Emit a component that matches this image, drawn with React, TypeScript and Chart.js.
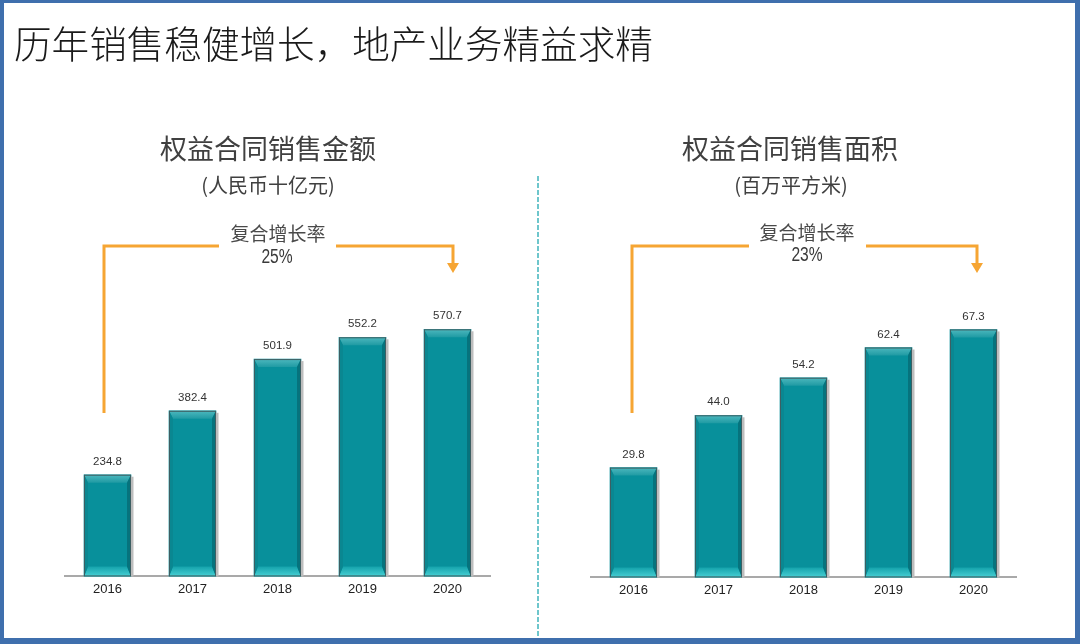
import React, { useEffect, useRef } from "react";
import { Chart, registerables } from "chart.js";

Chart.register(...registerables);

const years = ["2016", "2017", "2018", "2019", "2020"];
const salesAmount = [234.8, 382.4, 501.9, 552.2, 570.7];
const salesArea = [29.8, 44.0, 54.2, 62.4, 67.3];
const amountMax = 800;
const areaMax = 94.3;

const titleText = "历年销售稳健增长，地产业务精益求精";
const leftTitle = "权益合同销售金额";
const leftUnit = "(人民币十亿元)";
const rightTitle = "权益合同销售面积";
const rightUnit = "(百万平方米)";
const cagrLabel = "复合增长率";
const leftCagr = "25%";
const rightCagr = "23%";

const CJK = '"Noto Sans CJK SC", "Noto Sans", sans-serif';
const NUM = '"Liberation Sans", Arial, sans-serif';

const bevelPlugin = {
  id: "bevel",
  afterDatasetsDraw(chart: any) {
    const ctx = chart.ctx as CanvasRenderingContext2D;
    const meta = chart.getDatasetMeta(0);
    const values = chart.data.datasets[0].data as number[];
    meta.data.forEach((bar: any, i: number) => {
      const { x, y, base, width } = bar.getProps(["x", "y", "base", "width"], true);
      const l = x - width / 2;
      const r = x + width / 2;
      const t = y;
      const b = base;
      const s = 4;
      const tb = 8;
      const bb = 10;
      ctx.save();
      ctx.fillStyle = "#bdbdbd";
      ctx.fillRect(r, t + 2, 2.5, b - t - 2);
      const gt = ctx.createLinearGradient(0, t, 0, t + tb);
      gt.addColorStop(0, "#4db8be");
      gt.addColorStop(1, "#1f9aa3");
      ctx.fillStyle = gt;
      ctx.beginPath();
      ctx.moveTo(l, t);
      ctx.lineTo(r, t);
      ctx.lineTo(r - s, t + tb);
      ctx.lineTo(l + s, t + tb);
      ctx.closePath();
      ctx.fill();
      const g = ctx.createLinearGradient(0, b - bb, 0, b);
      g.addColorStop(0, "#14a2ab");
      g.addColorStop(1, "#48d0d4");
      ctx.fillStyle = g;
      ctx.beginPath();
      ctx.moveTo(l, b);
      ctx.lineTo(r, b);
      ctx.lineTo(r - s, b - bb);
      ctx.lineTo(l + s, b - bb);
      ctx.closePath();
      ctx.fill();
      ctx.fillStyle = "#0a8791";
      ctx.beginPath();
      ctx.moveTo(l, t);
      ctx.lineTo(l + s, t + tb);
      ctx.lineTo(l + s, b - bb);
      ctx.lineTo(l, b);
      ctx.closePath();
      ctx.fill();
      ctx.fillStyle = "#06737d";
      ctx.beginPath();
      ctx.moveTo(r, t);
      ctx.lineTo(r - s, t + tb);
      ctx.lineTo(r - s, b - bb);
      ctx.lineTo(r, b);
      ctx.closePath();
      ctx.fill();
      ctx.strokeStyle = "#3d5f63";
      ctx.lineWidth = 1;
      ctx.strokeRect(l + 0.5, t + 0.5, width - 1, b - t - 1);
      ctx.fillStyle = "#333333";
      ctx.font = "11.5px " + NUM;
      ctx.textAlign = "center";
      ctx.textBaseline = "middle";
      ctx.fillText(Number(values[i]).toFixed(1), x, t - 13);
      ctx.restore();
    });
  },
};

function makeConfig(values: number[], max: number, padL: number, padR: number, padB: number) {
  return {
    type: "bar" as const,
    data: {
      labels: years,
      datasets: [
        {
          data: values,
          backgroundColor: "#08909b",
          borderWidth: 0,
          barThickness: 47,
        },
      ],
    },
    options: {
      responsive: false,
      animation: false as const,
      layout: { padding: { left: padL, right: padR, top: 230, bottom: padB } },
      plugins: { legend: { display: false }, tooltip: { enabled: false } },
      scales: {
        x: {
          grid: { display: false, drawTicks: false },
          border: { display: true, color: "#a9a9a9", width: 2 },
          ticks: {
            color: "#222222",
            padding: 5,
            font: { size: 13, family: NUM },
          },
        },
        y: { display: false, min: 0, max },
      },
    },
    plugins: [bevelPlugin],
  };
}

function BarChart({ values, max, left, padL, padR, padB }: any) {
  const ref = useRef<HTMLCanvasElement>(null);
  useEffect(() => {
    if (!ref.current) return;
    const chart = new Chart(ref.current, makeConfig(values, max, padL, padR, padB) as any);
    return () => chart.destroy();
  }, []);
  return (
    <canvas
      ref={ref}
      width={540}
      height={644}
      style={{ position: "absolute", left, top: 0, width: 540, height: 644 }}
    />
  );
}

function Label({ x, y, size, color, family, sx, children }: any) {
  return (
    <div
      style={{
        position: "absolute",
        left: x,
        top: y,
        transform: `translate(-50%, -50%) scaleX(${sx || 1})`,
        fontSize: size,
        lineHeight: 1,
        color,
        fontFamily: family,
        whiteSpace: "nowrap",
      }}
    >
      {children}
    </div>
  );
}

export default function App() {
  const orange = "#f6a533";
  return (
    <div
      style={{
        position: "absolute",
        left: 0,
        top: 0,
        width: 1080,
        height: 644,
        background: "#ffffff",
        overflow: "hidden",
      }}
    >
      <BarChart values={salesAmount} max={amountMax} left={0} padL={65} padR={50} padB={42} />
      <BarChart values={salesArea} max={areaMax} left={540} padL={51} padR={64} padB={41} />
      <svg
        width={1080}
        height={644}
        style={{ position: "absolute", left: 0, top: 0, pointerEvents: "none" }}
      >
        <line x1={538} y1={176} x2={538} y2={644} stroke="#6ec6cc" strokeWidth={2} strokeDasharray="5 2" />
        <g fill="none" stroke={orange} strokeWidth={3} strokeLinejoin="miter">
          <path d="M104 413 V246 H219" />
          <path d="M336 246 H453 V265" />
          <path d="M632 413 V246 H749" />
          <path d="M866 246 H977 V265" />
        </g>
        <polygon points="447,263 459,263 453,273" fill={orange} />
        <polygon points="971,263 983,263 977,273" fill={orange} />
      </svg>
      <div
        style={{
          position: "absolute",
          left: 14,
          top: 42,
          transform: "translateY(-50%)",
          fontSize: 37.6,
          lineHeight: 1,
          fontWeight: 300,
          color: "#1a1a1a",
          fontFamily: CJK,
          whiteSpace: "nowrap",
        }}
      >
        {titleText}
      </div>
      <Label x={268} y={147} size={27} color="#404040" family={CJK}>{leftTitle}</Label>
      <Label x={268} y={185} size={20} color="#404040" family={CJK}>{leftUnit}</Label>
      <Label x={790} y={147} size={27} color="#404040" family={CJK}>{rightTitle}</Label>
      <Label x={791} y={185} size={20} color="#404040" family={CJK}>{rightUnit}</Label>
      <Label x={278} y={232} size={19} color="#4a4a4a" family={CJK}>{cagrLabel}</Label>
      <Label x={277} y={256} size={20} color="#3a3a3a" family={NUM} sx={0.78}>{leftCagr}</Label>
      <Label x={807} y={231} size={19} color="#4a4a4a" family={CJK}>{cagrLabel}</Label>
      <Label x={807} y={254} size={20} color="#3a3a3a" family={NUM} sx={0.78}>{rightCagr}</Label>
      <div
        style={{
          position: "absolute",
          left: 0,
          top: 0,
          width: 1080,
          height: 644,
          boxSizing: "border-box",
          borderStyle: "solid",
          borderColor: "#3f6fad",
          borderWidth: "3px 5px 6px 4px",
          pointerEvents: "none",
        }}
      />
    </div>
  );
}
